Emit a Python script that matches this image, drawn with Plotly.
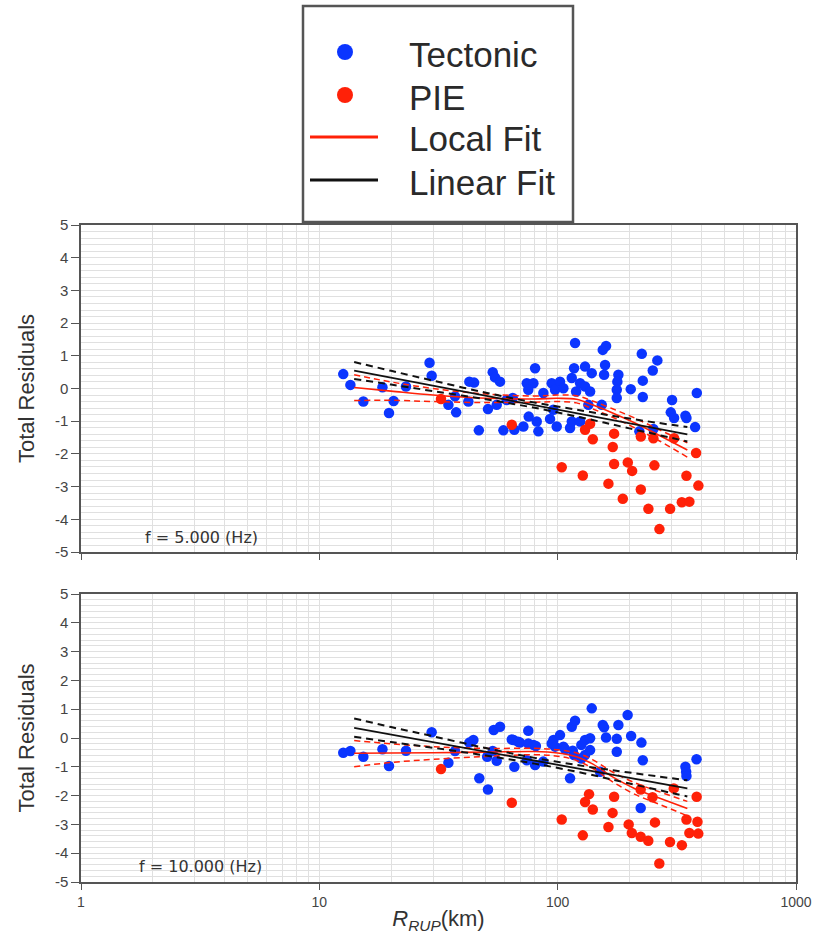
import plotly.graph_objects as go

# ---------------- data ----------------
# f = 5 Hz panel
top_tec_x = [12.6, 13.5, 15.3, 18.4, 20.5, 19.6, 23.1, 29.0, 29.6, 34.8, 37.5, 37.1, 42.6, 44.6, 42.2, 46.7,
             51.0, 53.4, 54.6, 57.3, 55.5, 59.2, 65.8, 61.1, 71.8, 74.2, 75.6, 64.8, 80.4, 79.1, 75.3, 81.7,
             83.0, 87.1, 92.9, 94.4, 97.5, 99.1, 102.3, 105.7, 95.9, 112.7, 114.6, 114.6, 118.3, 117.2, 119.5,
             124.2, 124.2, 130.3, 130.3, 136.8, 139.0, 134.5, 154.6, 159.6, 158.1, 156.6, 153.1, 179.8, 178.0,
             177.0, 177.0, 202.6, 225.4, 227.6, 227.6, 250.6, 262.0, 220.2, 252.1, 302.0, 298.3, 308.0, 343.6,
             347.0, 377.3, 383.5]
top_tec_y = [0.44, 0.11, -0.40, 0.04, -0.38, -0.75, 0.06, 0.79, 0.39, -0.50, -0.73, -0.24, 0.21, 0.18, -0.40, -1.28,
             -0.63, 0.50, 0.34, 0.21, -0.50, -1.28, -1.26, -0.35, -1.16, 0.16, -0.86, -0.29, 0.62, 0.16, -0.04, -1.01,
             -1.31, -0.14, -0.93, 0.16, -0.04, -1.16, 0.21, 0.01, -0.65, -1.21, -1.01, 0.32, 1.39, 0.62, -0.09,
             -1.01, 0.16, 0.67, 0.06, -0.09, 0.47, -0.50, 1.18, 1.30, 0.72, 0.42, -0.50, 0.42, 0.21,
             -0.04, -0.29, -0.02, 1.06, 0.24, -0.26, 0.55, 0.86, -1.31, -1.24, -0.35, -0.73, -0.90, -0.83,
             -0.90, -1.18, -0.14]
top_pie_x = [32.4, 64.2, 104.0, 127.5, 130.3, 136.8, 140.4, 172.5, 170.3, 172.5, 163.3, 187.6, 196.9, 205.3,
             223.3, 240.3, 223.3, 252.1, 254.6, 267.3, 296.3, 308.0, 331.8, 357.0, 347.0, 380.8, 389.4]
top_pie_y = [-0.32, -1.11, -2.41, -2.66, -1.26, -1.08, -1.55, -1.38, -1.79, -2.31, -2.91, -3.37, -2.26, -2.52,
             -3.09, -3.68, -1.47, -1.52, -2.35, -4.30, -3.68, -1.52, -3.48, -3.46, -2.67, -1.97, -2.97]

# f = 10 Hz panel
bot_tec_x = [12.6, 13.5, 15.3, 18.4, 19.6, 23.1, 29.6, 34.8, 37.1, 42.6, 44.3, 46.9, 50.6, 51.0, 53.9, 57.3,
             53.4, 55.5, 64.2, 65.8, 69.5, 75.3, 65.3, 68.3, 75.3, 79.1, 81.0, 74.2, 80.4, 87.0, 94.4, 96.0,
             97.5, 102.3, 105.7, 107.5, 112.7, 114.6, 118.3, 115.7, 117.2, 125.7, 130.3, 136.8, 125.7, 130.3,
             136.8, 139.0, 150.6, 154.6, 156.6, 159.6, 177.0, 179.8, 177.0, 196.6, 203.3, 224.6, 227.6, 223.0,
             343.6, 346.0, 347.0, 382.5]
bot_tec_y = [-0.51, -0.45, -0.65, -0.39, -0.97, -0.44, 0.20, -0.86, -0.45, -0.16, -0.07, -1.40, -0.65, -1.79, 0.28, 0.39,
             -0.45, -0.79, -0.05, -1.00, -0.16, 0.25, -0.07, -0.13, -0.19, -0.24, -0.28, -0.77, -0.94, -0.82, -0.19, -0.07,
             -0.30, 0.10, -0.30, -0.39, -1.40, 0.39, 0.60, -0.44, -0.59, -0.24, -0.07, -0.01, -0.71, -0.59,
             -0.42, 1.03, -1.17, 0.45, 0.37, 0.02, -0.03, 0.45, -0.48, 0.80, 0.07, -0.16, -0.77, -2.43,
             -1.00, -1.17, -1.32, -0.74]
bot_pie_x = [32.4, 64.2, 104.0, 127.5, 135.4, 130.3, 140.4, 163.3, 172.5, 170.0, 198.6, 204.7, 223.0, 240.0,
             223.0, 250.0, 256.0, 267.0, 296.0, 307.0, 332.0, 347.0, 357.0, 383.0, 386.0, 389.0]
bot_pie_y = [-1.08, -2.25, -2.83, -3.38, -1.95, -2.22, -2.48, -3.09, -2.04, -2.60, -3.00, -3.30, -3.43, -3.57,
             -1.79, -2.06, -2.93, -4.36, -3.61, -1.75, -3.72, -2.83, -3.30, -2.04, -2.91, -3.32]

# fitted lines
lin_x = [14, 20, 30, 50, 80, 130, 200, 350]
top_lin = [0.545, 0.33, 0.08, -0.23, -0.51, -0.80, -1.07, -1.40]
top_lin_up = [0.81, 0.54, 0.24, -0.13, -0.43, -0.69, -0.92, -1.18]
top_lin_lo = [0.29, 0.12, -0.08, -0.33, -0.59, -0.91, -1.22, -1.62]
bot_lin = [0.355, 0.12, -0.144, -0.48, -0.79, -1.105, -1.39, -1.75]
bot_lin_up = [0.68, 0.38, 0.06, -0.35, -0.69, -0.98, -1.20, -1.47]
bot_lin_lo = [0.04, -0.14, -0.34, -0.61, -0.89, -1.23, -1.58, -2.03]

loc_x = [14, 20, 30, 50, 80, 100, 120, 140, 170, 210, 270, 350]
top_loc = [0.03, -0.08, -0.2, -0.3, -0.32, -0.3, -0.33, -0.5, -0.75, -1.05, -1.45, -1.88]
top_loc_up = [0.42, 0.2, 0.0, -0.17, -0.23, -0.2, -0.22, -0.38, -0.62, -0.9, -1.28, -1.66]
top_loc_lo = [-0.37, -0.36, -0.4, -0.43, -0.42, -0.4, -0.44, -0.62, -0.88, -1.2, -1.62, -2.1]
bot_loc = [-0.53, -0.52, -0.51, -0.49, -0.47, -0.52, -0.65, -0.9, -1.35, -1.75, -2.1, -2.45]
bot_loc_up = [-0.09, -0.2, -0.3, -0.36, -0.36, -0.41, -0.52, -0.75, -1.18, -1.55, -1.88, -2.2]
bot_loc_lo = [-1.0, -0.85, -0.74, -0.64, -0.58, -0.63, -0.78, -1.05, -1.52, -1.95, -2.32, -2.7]

panel_labels = ["f = 5.000 (Hz)", "f = 10.000 (Hz)"]
legend_labels = ["Tectonic", "PIE", "Local Fit", "Linear Fit"]
x_ticks = [1, 10, 100, 1000]
y_ticks = list(range(-5, 6))

# ---------------- styles / geometry ----------------
BLUE = "#0b35ff"
RED = "#ff2108"
BLACK = "#111111"
FONT = "Arial, Liberation Sans, sans-serif"
W, H = 818, 934
ML, MR, MT, MB = 81, 22, 225, 52
PW, PH = W - ML - MR, H - MT - MB


def px(xp):
    return (xp - ML) / PW


def py(yp):
    return (H - MB - yp) / PH


fig = go.Figure()

panels = [
    ("x", "y", top_tec_x, top_tec_y, top_pie_x, top_pie_y, top_lin, top_lin_up, top_lin_lo,
     top_loc, top_loc_up, top_loc_lo),
    ("x2", "y2", bot_tec_x, bot_tec_y, bot_pie_x, bot_pie_y, bot_lin, bot_lin_up, bot_lin_lo,
     bot_loc, bot_loc_up, bot_loc_lo),
]

for (xa, ya, tx, ty, px_, py_, ln, lnu, lnl, lc, lcu, lcl) in panels:
    fig.add_trace(go.Scatter(x=tx, y=ty, mode="markers", name=legend_labels[0], xaxis=xa, yaxis=ya,
                             marker=dict(color=BLUE, size=10.5), showlegend=False))
    fig.add_trace(go.Scatter(x=px_, y=py_, mode="markers", name=legend_labels[1], xaxis=xa, yaxis=ya,
                             marker=dict(color=RED, size=10.5), showlegend=False))
    for yy in (lcu, lcl):
        fig.add_trace(go.Scatter(x=loc_x, y=yy, mode="lines", xaxis=xa, yaxis=ya, showlegend=False,
                                 line=dict(color=RED, width=1.5, dash="6px,4px", shape="spline")))
    fig.add_trace(go.Scatter(x=loc_x, y=lc, mode="lines", name=legend_labels[2], xaxis=xa, yaxis=ya,
                             line=dict(color=RED, width=1.6, shape="spline"), showlegend=False))
    for yy in (lnu, lnl):
        fig.add_trace(go.Scatter(x=lin_x, y=yy, mode="lines", xaxis=xa, yaxis=ya, showlegend=False,
                                 line=dict(color=BLACK, width=2, dash="7px,5px", shape="spline")))
    fig.add_trace(go.Scatter(x=lin_x, y=ln, mode="lines", name=legend_labels[3], xaxis=xa, yaxis=ya,
                             line=dict(color=BLACK, width=1.8), showlegend=False))

grid = "#e0e0e0"
xcommon = dict(type="log", range=[0, 3], showgrid=True, gridcolor=grid, gridwidth=1, automargin=False,
               minor=dict(showgrid=True, gridcolor=grid, ticks="", dtick="D1"),
               tickvals=x_ticks, ticktext=[str(v) for v in x_ticks],
               showline=True, linecolor="#555555", linewidth=1.5, mirror=True,
               ticks="outside", ticklen=6, tickcolor="#555555", zeroline=False,
               tickfont=dict(size=14, color="#444444", family=FONT))
ycommon = dict(range=[-5, 5], tickvals=y_ticks, ticktext=[str(v) for v in y_ticks], automargin=False,
               showgrid=True, gridcolor=grid, gridwidth=1,
               minor=dict(showgrid=True, gridcolor=grid, dtick=0.2, ticks=""),
               showline=True, linecolor="#555555", linewidth=1.5, mirror=True,
               ticks="outside", ticklen=8, tickcolor="#555555", zeroline=False,
               tickfont=dict(size=15, color="#444444", family=FONT),
               title=dict(text="Total Residuals", font=dict(size=22, color="#333333", family=FONT), standoff=14))

fig.update_layout(
    width=W, height=H,
    margin=dict(l=ML, r=MR, t=MT, b=MB),
    paper_bgcolor="white", plot_bgcolor="white",
    font=dict(family=FONT, color="#333333"),
    showlegend=False,
    xaxis=dict(domain=[0, 1], anchor="y", showticklabels=False, **xcommon),
    yaxis=dict(domain=[py(552), 1.0], anchor="x", **ycommon),
    xaxis2=dict(domain=[0, 1], anchor="y2",
                title=dict(text="<i>R</i><sub><i>RUP</i></sub>(km)", font=dict(size=22, color="#333333", family=FONT),
                           standoff=2),
                **xcommon),
    yaxis2=dict(domain=[0.0, py(594)], anchor="x2", **ycommon),
)

# panel frequency labels
fig.add_annotation(text=panel_labels[0], xref="paper", yref="paper", x=px(201), y=py(537),
                   xanchor="center", yanchor="middle", showarrow=False,
                   font=dict(size=16, color="#333333", family="DejaVu Sans, sans-serif"))
fig.add_annotation(text=panel_labels[1], xref="paper", yref="paper", x=px(200), y=py(866),
                   xanchor="center", yanchor="middle", showarrow=False,
                   font=dict(size=16, color="#333333", family="DejaVu Sans, sans-serif"))

# legend box (drawn manually to match the reference layout)
fig.add_shape(type="rect", xref="paper", yref="paper", x0=px(303), x1=px(573), y0=py(222), y1=py(6),
              line=dict(color="#555555", width=2.5), fillcolor="white", layer="above")
leg_rows = [52, 95, 137, 180]
leg_styles = [("marker", BLUE), ("marker", RED), ("line", RED), ("line", BLACK)]
for lab, yrow, (kind, col) in zip(legend_labels, leg_rows, leg_styles):
    if kind == "marker":
        fig.add_shape(type="circle", xref="paper", yref="paper", x0=px(337), x1=px(353),
                      y0=py(yrow + 8), y1=py(yrow - 8), line=dict(color=col, width=0), fillcolor=col,
                      layer="above")
    else:
        fig.add_shape(type="line", xref="paper", yref="paper", x0=px(310), x1=px(378),
                      y0=py(yrow), y1=py(yrow), line=dict(color=col, width=3), layer="above")
    fig.add_annotation(text=lab, xref="paper", yref="paper", x=px(407), y=py(yrow + 2),
                       xanchor="left", yanchor="middle", showarrow=False,
                       font=dict(size=35, color="#2a2a2a", family=FONT))

fig.write_html(
    "out.html",
    config={"displayModeBar": False},
    post_script="document.body.style.margin='0';document.body.style.padding='0';"
                "document.body.style.overflow='hidden';document.documentElement.style.overflow='hidden';",
)
